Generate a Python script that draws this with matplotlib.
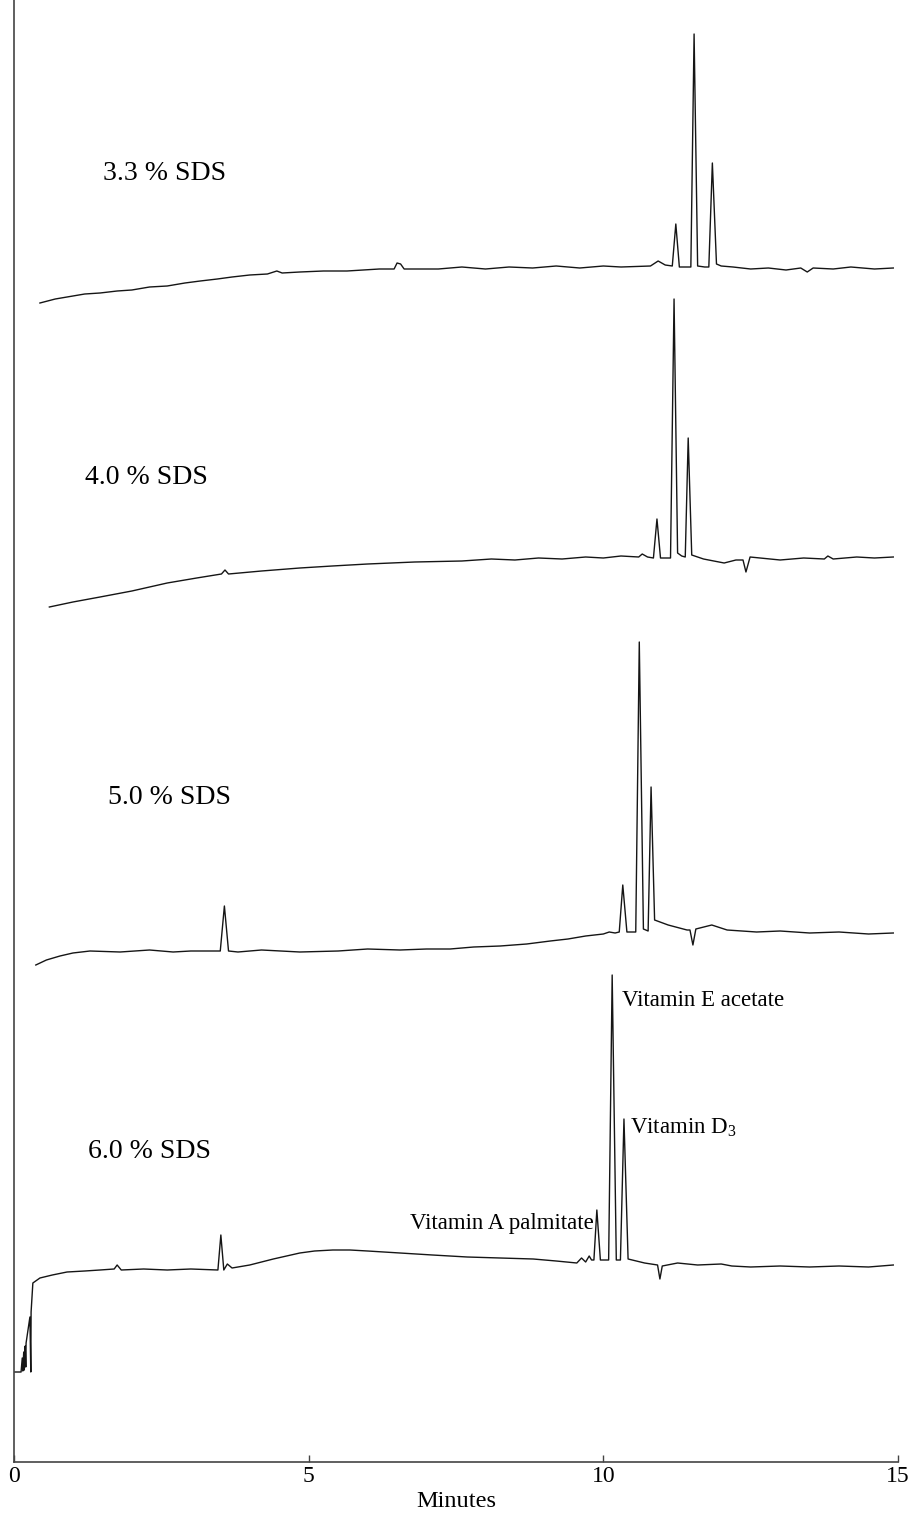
import matplotlib
matplotlib.use("Agg")
import matplotlib.pyplot as plt

plt.rcParams['font.family'] = ['Liberation Serif', 'DejaVu Serif']
plt.rcParams['mathtext.fontset'] = 'custom'
plt.rcParams['mathtext.rm'] = 'Liberation Serif'

# retention time (min) and detector signal (arbitrary units, stacked offsets)
t_33 = [0.44, 0.7, 0.9, 1.2, 1.46, 1.75, 2.0, 2.3, 2.6, 2.9, 3.16, 3.45, 3.7, 4.0, 4.3, 4.46, 4.55,
        4.85, 5.25, 5.65, 6.2, 6.45, 6.5, 6.56, 6.62, 7.2, 7.6, 8.0, 8.4, 8.8, 9.2, 9.6, 10.0, 10.3,
        10.8, 10.93, 11.05, 11.17, 11.23, 11.29, 11.42, 11.485, 11.54, 11.6, 11.72, 11.79, 11.85,
        11.92, 12.0, 12.2, 12.5, 12.8, 13.1, 13.35, 13.46, 13.56, 13.9, 14.2, 14.6, 14.92]
s_33 = [1159, 1163, 1165, 1168, 1169, 1171, 1172, 1175, 1176, 1179, 1181, 1183, 1185, 1187, 1188, 1191, 1189,
        1190, 1191, 1191, 1193, 1193, 1199, 1198, 1193, 1193, 1195, 1193, 1195, 1194, 1196, 1194, 1196, 1195,
        1196, 1201, 1197, 1196, 1238, 1195, 1195, 1195, 1428, 1196, 1195, 1195, 1299,
        1198, 1196, 1195, 1193, 1194, 1192, 1194, 1190, 1194, 1193, 1195, 1193, 1194]

t_40 = [0.6, 1.0, 1.46, 2.0, 2.6, 3.1, 3.52, 3.58, 3.64, 4.2, 4.85, 5.4, 6.0, 6.8, 7.6, 8.1, 8.5, 8.9,
        9.3, 9.7, 10.0, 10.3, 10.6, 10.66, 10.75, 10.85, 10.91, 10.97, 11.14, 11.2, 11.26, 11.33, 11.39,
        11.44, 11.5, 11.7, 12.05, 12.25, 12.37, 12.42, 12.49, 13.0, 13.4, 13.75, 13.81, 13.9, 14.3,
        14.6, 14.92]
s_40 = [855, 860, 865, 871, 879, 884, 888, 892, 888, 891, 894, 896, 898, 900, 901, 903, 902, 904,
        903, 905, 904, 906, 905, 908, 905, 904, 943, 904, 904, 1163, 909, 906, 905,
        1024, 907, 903, 899, 902, 902, 890, 905, 902, 904, 903, 906, 903, 905,
        904, 905]

t_50 = [0.37, 0.55, 0.78, 1.0, 1.29, 1.8, 2.3, 2.7, 3.0, 3.5, 3.57, 3.64, 3.8, 4.2, 4.85, 5.5, 6.0,
        6.55, 7.0, 7.4, 7.8, 8.25, 8.7, 9.1, 9.4, 9.7, 10.0, 10.1, 10.2, 10.27, 10.33, 10.4, 10.55,
        10.61, 10.68, 10.76, 10.81, 10.87, 11.1, 11.42, 11.47, 11.52, 11.57, 11.84, 12.1, 12.6, 13.0,
        13.5, 14.0, 14.5, 14.92]
s_50 = [497, 502, 506, 509, 511, 510, 512, 510, 511, 511, 556, 511, 510, 512, 510, 511, 513,
        512, 513, 513, 515, 516, 518, 521, 523, 526, 528, 530, 529, 530, 577, 530, 530,
        820, 533, 531, 675, 542, 537, 532, 532, 517, 533, 537, 532, 530, 531,
        529, 530, 528, 529]

t_60 = [0.0, 0.12, 0.14, 0.15, 0.165, 0.175, 0.19, 0.2, 0.205, 0.27, 0.285, 0.29, 0.32, 0.44, 0.65,
        0.9, 1.2, 1.46, 1.7, 1.75, 1.82, 2.2, 2.6, 3.0, 3.46, 3.51, 3.56, 3.62, 3.7, 4.0, 4.4, 4.85,
        5.1, 5.41, 5.7, 6.0, 6.55, 7.1, 7.69, 8.25, 8.81, 9.2, 9.55, 9.63, 9.7, 9.76, 9.8, 9.84, 9.89,
        9.95, 10.09, 10.15, 10.22, 10.29, 10.35, 10.42, 10.7, 10.92, 10.96, 11.0, 11.26, 11.6, 12.0,
        12.18, 12.5, 13.0, 13.5, 14.0, 14.5, 14.92]
s_60 = [90, 90, 104, 91, 110, 92, 116, 95, 119, 145, 90, 150, 179, 184, 187,
        190, 191, 192, 193, 197, 192, 193, 192, 193, 192, 227, 192, 198, 194, 197, 203, 209,
        211, 212, 212, 211, 209, 207, 205, 204, 203, 201, 199, 204, 200, 206, 202, 202, 252,
        202, 202, 487, 202, 202, 343, 203, 199, 197, 183, 196, 199, 197, 198,
        196, 195, 196, 195, 196, 195, 197]

traces = [(t_33, s_33), (t_40, s_40), (t_50, s_50), (t_60, s_60)]

sds_labels = ['3.3 % SDS', '4.0 % SDS', '5.0 % SDS', '6.0 % SDS']
sds_label_pos = [(1.51, 1289), (1.20, 984), (1.60, 665), (1.26, 310)]

peak_names = ['Vitamin A palmitate', 'Vitamin E acetate', 'Vitamin D$_3$']
peak_name_pos = [(9.83, 239), (10.32, 462), (10.46, 334)]
peak_name_ha = ['right', 'left', 'left']

fig = plt.figure(figsize=(9.09, 15.13), dpi=100)
ax = fig.add_axes([14 / 909, 51 / 1513, 884 / 909, 1462 / 1513])

for t, s in traces:
    ax.plot(t, s, color='#151515', lw=1.0)

for lab, (x, y) in zip(sds_labels, sds_label_pos):
    ax.text(x, y, lab, fontsize=20, ha='left', va='center')

for name, (x, y), ha in zip(peak_names, peak_name_pos, peak_name_ha):
    ax.text(x, y, name, fontsize=16.5, ha=ha, va='center')

ax.set_xlim(0, 15)
ax.set_ylim(0, 1462)
ax.set_xticks([0, 5, 10, 15])
ax.set_yticks([])
ax.tick_params(axis='x', direction='in', length=5, width=1, labelsize=17, pad=3, color='#444444')
ax.set_xlabel('Minutes', fontsize=17.5, labelpad=3)
for side in ['top', 'right']:
    ax.spines[side].set_visible(False)
for side in ['left', 'bottom']:
    ax.spines[side].set_color('#444444')
    ax.spines[side].set_linewidth(1.2)

fig.savefig('out.png', dpi=100)
